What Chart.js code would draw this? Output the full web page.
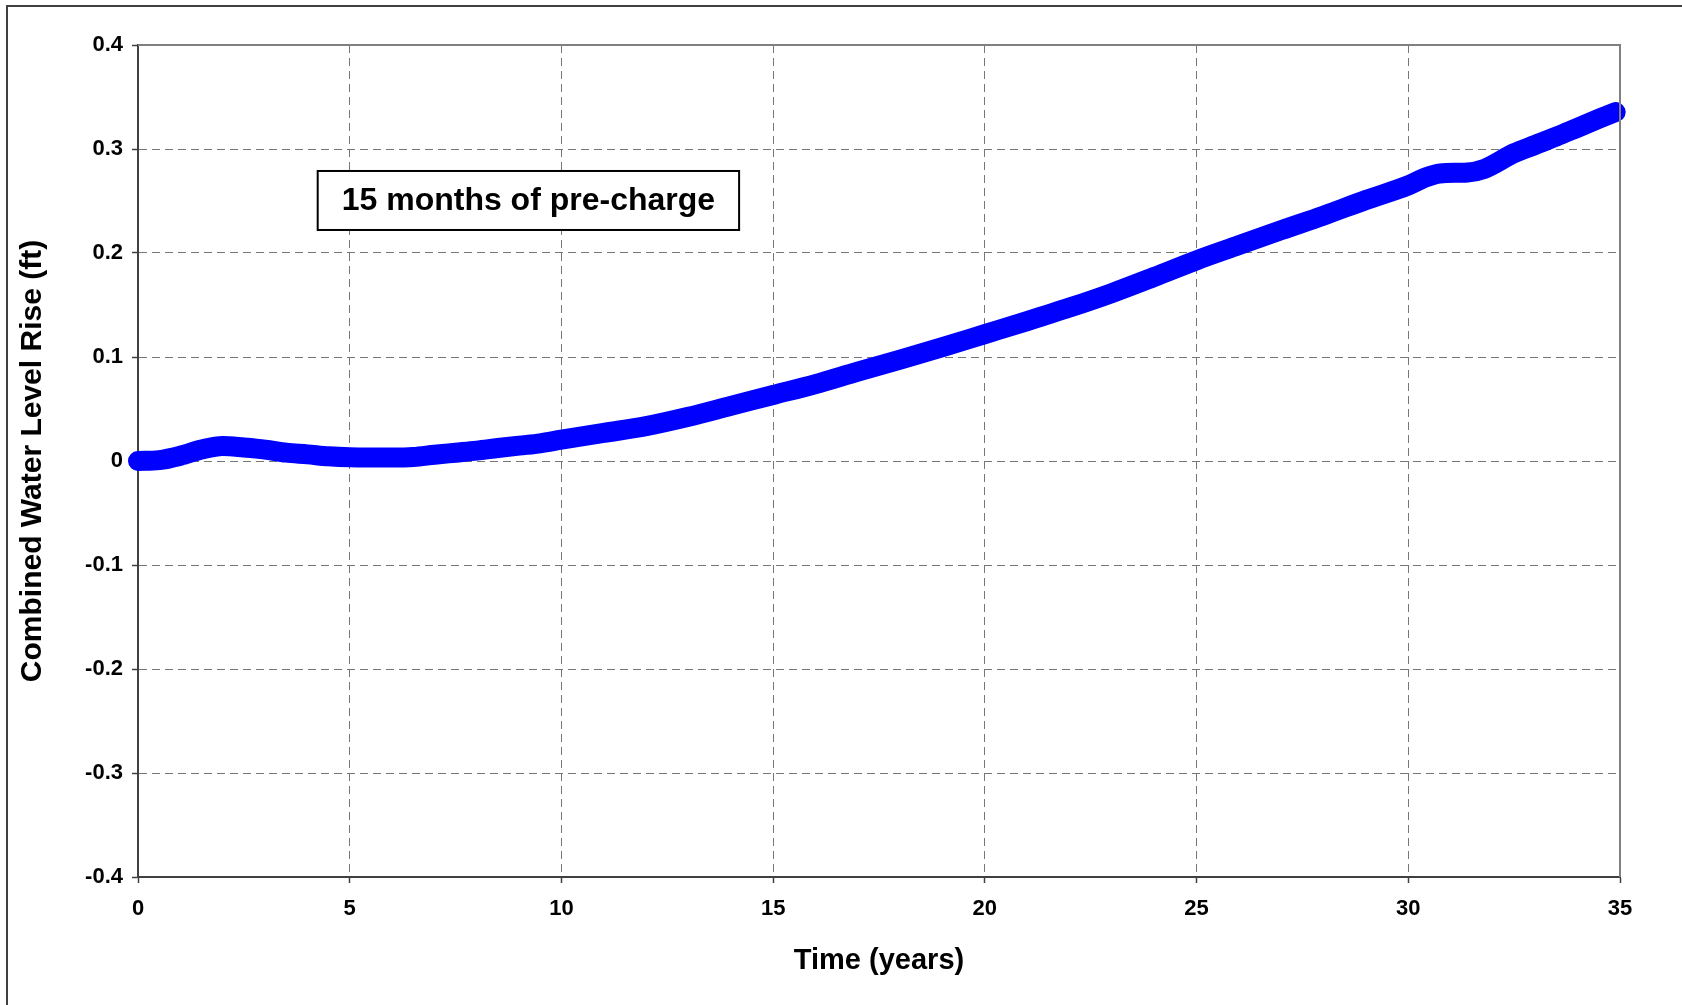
<!DOCTYPE html>
<html>
<head>
<meta charset="utf-8">
<script src="https://cdn.jsdelivr.net/npm/chart.js@4.4.0/dist/chart.umd.min.js"></script>
<style>
  html, body { margin: 0; padding: 0; background: #fff; }
  #wrap { width: 1682px; height: 1005px; }
</style>
</head>
<body>
<div id="wrap"><canvas id="rise"></canvas></div>
<script>
// Tiempo (años) y subida combinada del nivel de agua (ft)
const years = [0, 0.5, 1, 1.5, 2, 2.5, 3, 3.5, 4, 4.5, 5, 5.5, 6, 6.5, 7, 7.5, 8, 8.5, 9, 9.5,
  10, 11, 12, 13, 14, 15, 16, 17, 18, 19, 20, 21, 22, 23, 24, 25, 26, 27, 28, 29,
  30, 30.4, 30.75, 31.4, 31.8, 32.5, 33, 33.5, 34, 34.5, 34.9];
const rise = [0, 0.0008, 0.005, 0.011, 0.0145, 0.013, 0.011, 0.008, 0.0064, 0.0045, 0.0035, 0.0033, 0.0033, 0.0038, 0.006, 0.008, 0.010, 0.0125, 0.0148, 0.017,
  0.0205, 0.027, 0.0335, 0.0425, 0.053, 0.0635, 0.074, 0.086, 0.0975, 0.1095, 0.122, 0.1345, 0.1475, 0.1615, 0.177, 0.193, 0.2075, 0.222, 0.236, 0.251,
  0.265, 0.2725, 0.2765, 0.2775, 0.281, 0.296, 0.304, 0.312, 0.3205, 0.329, 0.3355];

const xTicks = [0, 5, 10, 15, 20, 25, 30, 35];
const yTicks = [-0.4, -0.3, -0.2, -0.1, 0, 0.1, 0.2, 0.3, 0.4];
const yTickLabels = ['-0.4', '-0.3', '-0.2', '-0.1', '0', '0.1', '0.2', '0.3', '0.4'];
const noteText = '15 months of pre-charge';

const FONT = "'Liberation Sans', Arial, sans-serif";

// Marco exterior, borde del área de trazado y cuadro de texto
const extras = {
    id: 'extras',
    beforeDraw(chart) {
        const c = chart.ctx;
        c.save();
        c.fillStyle = '#fff';
        c.fillRect(0, 0, chart.width, chart.height);
        c.strokeStyle = '#404040';
        c.lineWidth = 2;
        c.strokeRect(7, 6, chart.width + 20, chart.height + 20);
        c.restore();
    },
    afterDatasetsDraw(chart) {
        const c = chart.ctx;
        const a = chart.chartArea;
        const x = chart.scales.x, y = chart.scales.y;
        c.save();
        // borde superior y derecho en gris
        c.strokeStyle = '#808080';
        c.lineWidth = 2;
        c.beginPath();
        c.moveTo(a.left, a.top);
        c.lineTo(a.right, a.top);
        c.lineTo(a.right, a.bottom);
        c.stroke();
        // cuadro de texto
        const cx = x.getPixelForValue(9.22);
        const cy = y.getPixelForValue(0.2505);
        c.font = 'bold 32px ' + FONT;
        const w = c.measureText(noteText).width + 48;
        const h = 59;
        c.fillStyle = '#fff';
        c.fillRect(cx - w / 2, cy - h / 2, w, h);
        c.strokeStyle = '#000';
        c.lineWidth = 2;
        c.strokeRect(cx - w / 2, cy - h / 2, w, h);
        c.fillStyle = '#000';
        c.textAlign = 'center';
        c.textBaseline = 'middle';
        c.fillText(noteText, cx, cy + 1);
        c.restore();
    }
};

const gridOpts = {
    color: '#767676',
    lineWidth: 1,
    tickLength: 6,
    tickColor: '#404040',
    tickBorderDash: [],
    tickWidth: 1.5
};

const ctx = document.getElementById('rise').getContext('2d');

const riseChart = new Chart(ctx, {
    type: 'line',
    data: {
        datasets: [{
            label: 'Combined Water Level Rise',
            data: years.map((t, i) => ({ x: t, y: rise[i] })),
            borderColor: '#0000ff',
            backgroundColor: '#0000ff',
            borderWidth: 20,
            borderCapStyle: 'round',
            borderJoinStyle: 'round',
            pointRadius: 0,
            cubicInterpolationMode: 'monotone',
            clip: false
        }]
    },
    options: {
        responsive: true,
        maintainAspectRatio: false,
        animation: false,
        layout: { padding: { left: 0, top: 45, right: 62, bottom: 0 } },
        scales: {
            x: {
                type: 'linear',
                min: 0,
                max: 35,
                afterBuildTicks: (s) => { s.ticks = xTicks.map(v => ({ value: v })); },
                afterFit: (s) => { s.height = 128; },
                grid: gridOpts,
                border: { color: '#404040', width: 2, dash: [8, 5] },
                ticks: {
                    padding: 13,
                    color: '#000',
                    font: { family: FONT, size: 22, weight: 'bold' },
                    maxRotation: 0
                },
                title: {
                    display: true,
                    text: 'Time (years)',
                    color: '#000',
                    font: { family: FONT, size: 29, weight: 'bold' },
                    padding: { top: 0, bottom: 27 }
                }
            },
            y: {
                min: -0.4,
                max: 0.4,
                afterBuildTicks: (s) => { s.ticks = yTicks.map(v => ({ value: v })); },
                afterFit: (s) => { s.width = 138; },
                grid: gridOpts,
                border: { color: '#404040', width: 2, dash: [8, 5] },
                ticks: {
                    padding: 9,
                    color: '#000',
                    font: { family: FONT, size: 22, weight: 'bold' },
                    callback: (v) => {
                        const i = yTicks.findIndex(t => Math.abs(t - v) < 1e-9);
                        return i >= 0 ? yTickLabels[i] : '';
                    }
                },
                title: {
                    display: true,
                    text: 'Combined Water Level Rise (ft)',
                    color: '#000',
                    font: { family: FONT, size: 30, weight: 'bold' },
                    padding: { top: 15, bottom: 0 }
                }
            }
        },
        plugins: {
            legend: { display: false },
            tooltip: { enabled: false }
        }
    },
    plugins: [extras]
});
</script>
</body>
</html>
